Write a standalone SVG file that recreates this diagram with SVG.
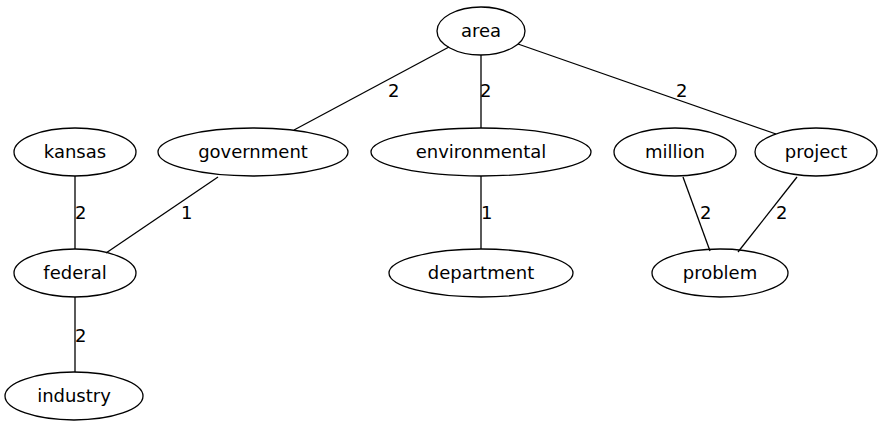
<svg xmlns="http://www.w3.org/2000/svg" width="881" height="429" viewBox="0 0 881 429">
<style>
ellipse{fill:none;stroke:#000;stroke-width:1.3}
line{stroke:#000;stroke-width:1.3}
text{font-family:"DejaVu Sans",sans-serif;font-size:18px;fill:#000}
.n{text-anchor:middle}
</style>
<rect width="881" height="429" fill="#fff"/>
<g id="edges">
<line x1="449" y1="47" x2="294" y2="130"/>
<text x="388" y="97">2</text>
<line x1="481" y1="55" x2="481" y2="128"/>
<text x="480" y="97">2</text>
<line x1="518" y1="44" x2="776" y2="134"/>
<text x="676" y="97">2</text>
<line x1="75" y1="176" x2="75" y2="249"/>
<text x="75" y="219">2</text>
<line x1="218" y1="177" x2="106" y2="253"/>
<text x="181" y="219">1</text>
<line x1="481" y1="176" x2="481" y2="249"/>
<text x="481" y="219">1</text>
<line x1="683" y1="177" x2="710" y2="251"/>
<text x="700" y="219">2</text>
<line x1="797" y1="177" x2="738" y2="252"/>
<text x="776" y="219">2</text>
<line x1="75" y1="297" x2="75" y2="372"/>
<text x="75" y="342">2</text>
</g>
<g id="area"><ellipse cx="481" cy="31" rx="44" ry="24"/><text class="n" x="481" y="37">area</text></g>
<g id="kansas"><ellipse cx="75" cy="152" rx="61" ry="24"/><text class="n" x="75" y="158">kansas</text></g>
<g id="government"><ellipse cx="253" cy="152" rx="95" ry="24"/><text class="n" x="253" y="158">government</text></g>
<g id="environmental"><ellipse cx="481" cy="152" rx="110" ry="24"/><text class="n" x="481" y="158">environmental</text></g>
<g id="million"><ellipse cx="675" cy="152" rx="61" ry="24"/><text class="n" x="675" y="158">million</text></g>
<g id="project"><ellipse cx="816" cy="152" rx="61" ry="24"/><text class="n" x="816" y="158">project</text></g>
<g id="federal"><ellipse cx="75" cy="273" rx="61" ry="24"/><text class="n" x="75" y="279">federal</text></g>
<g id="department"><ellipse cx="481" cy="273" rx="92" ry="24"/><text class="n" x="481" y="279">department</text></g>
<g id="problem"><ellipse cx="720" cy="273" rx="68" ry="24"/><text class="n" x="720" y="279">problem</text></g>
<g id="industry"><ellipse cx="74" cy="396" rx="69" ry="24"/><text class="n" x="74" y="402">industry</text></g>
</svg>
